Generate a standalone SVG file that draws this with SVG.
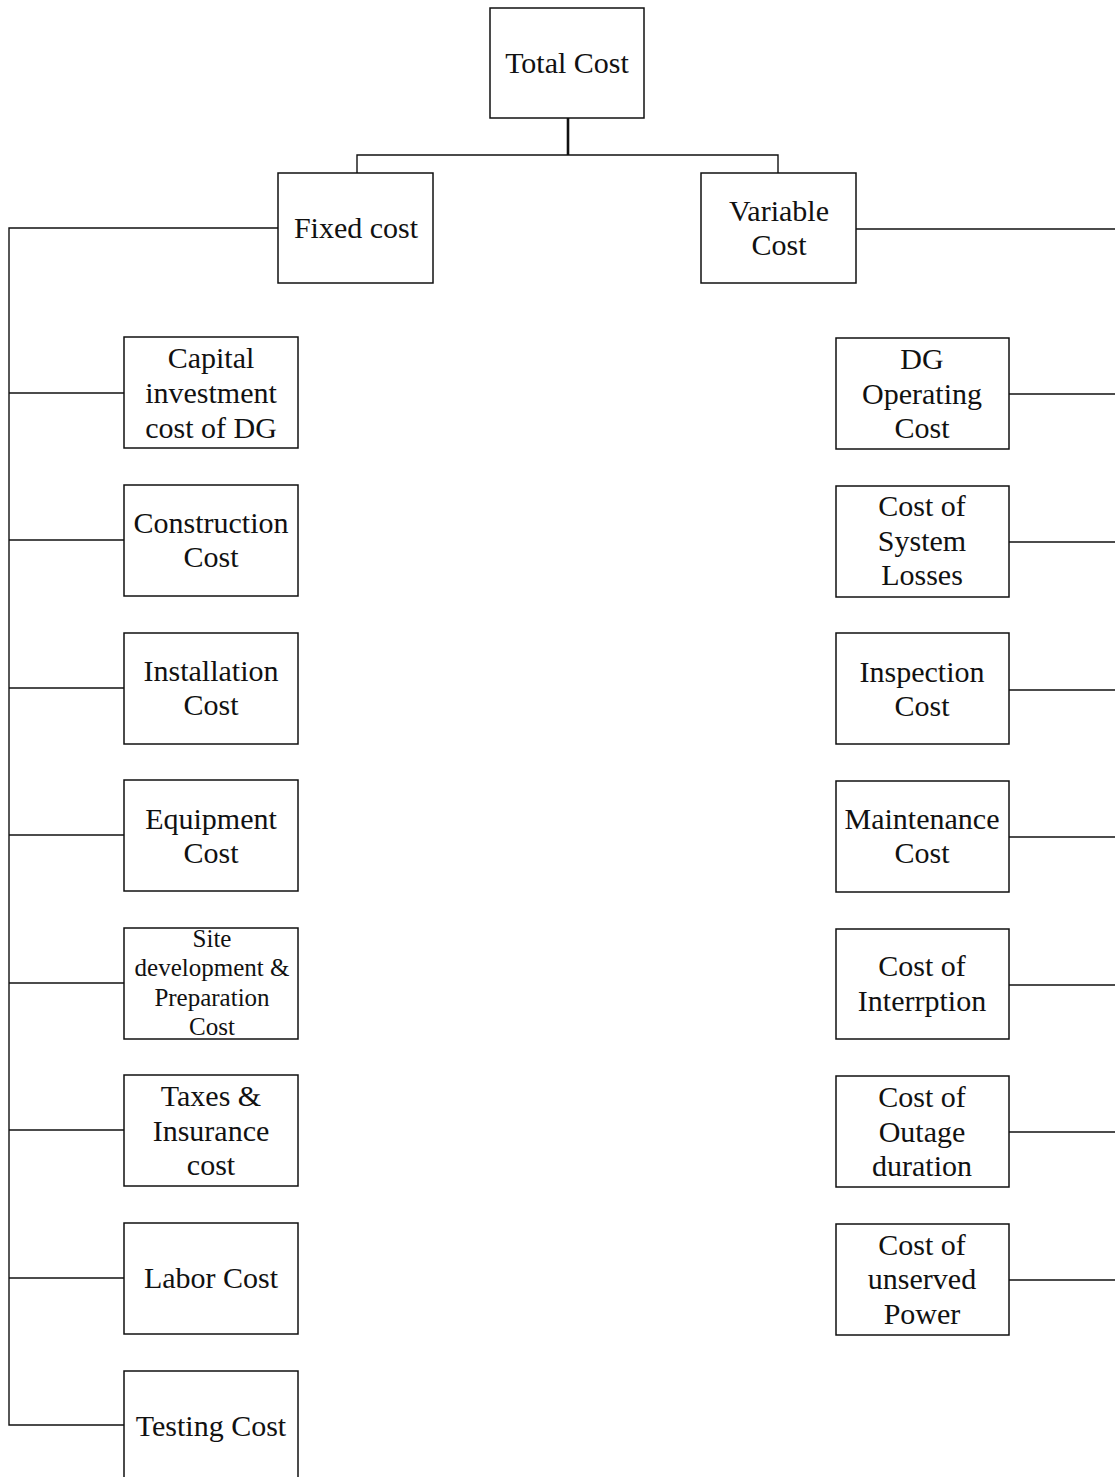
<svg xmlns="http://www.w3.org/2000/svg" width="1115" height="1477" viewBox="0 0 1115 1477">
  <style>
    .box { fill: #ffffff; stroke: #111111; stroke-width: 1.5; }
    .lbl { font-family: "Liberation Serif", "Times New Roman", serif; font-size: 30px; fill: #111111; text-anchor: middle; }
    .sm { font-size: 25px; }
    .wire { fill: none; stroke: #111111; stroke-width: 1.4; }
    .trunk { fill: none; stroke: #111111; stroke-width: 2.6; }
  </style>
  <rect width="1115" height="1477" fill="#ffffff"/>

  <!-- connectors -->
  <g id="connectors">
    <line class="trunk" x1="568" y1="118" x2="568" y2="155"/>
    <polyline class="wire" points="357,173 357,155 778,155 778,173"/>
    <!-- fixed cost branch -->
    <polyline class="wire" points="278,228 9,228 9,1425 124,1425"/>
    <line class="wire" x1="9" y1="393" x2="124" y2="393"/>
    <line class="wire" x1="9" y1="540" x2="124" y2="540"/>
    <line class="wire" x1="9" y1="688" x2="124" y2="688"/>
    <line class="wire" x1="9" y1="835" x2="124" y2="835"/>
    <line class="wire" x1="9" y1="983" x2="124" y2="983"/>
    <line class="wire" x1="9" y1="1130" x2="124" y2="1130"/>
    <line class="wire" x1="9" y1="1278" x2="124" y2="1278"/>
    <!-- variable cost branch -->
    <line class="wire" x1="856" y1="229" x2="1115" y2="229"/>
    <line class="wire" x1="1009" y1="394" x2="1115" y2="394"/>
    <line class="wire" x1="1009" y1="542" x2="1115" y2="542"/>
    <line class="wire" x1="1009" y1="690" x2="1115" y2="690"/>
    <line class="wire" x1="1009" y1="837" x2="1115" y2="837"/>
    <line class="wire" x1="1009" y1="985" x2="1115" y2="985"/>
    <line class="wire" x1="1009" y1="1132" x2="1115" y2="1132"/>
    <line class="wire" x1="1009" y1="1280" x2="1115" y2="1280"/>
  </g>

  <g id="total-cost">
    <rect class="box" x="490" y="8" width="154" height="110"/>
    <text class="lbl" x="567" y="73">Total Cost</text>
  </g>
  <g id="fixed-cost">
    <rect class="box" x="278" y="173" width="155" height="110"/>
    <text class="lbl" x="356" y="238">Fixed cost</text>
  </g>
  <g id="variable-cost">
    <rect class="box" x="701" y="173" width="155" height="110"/>
    <text class="lbl" x="779" y="221">Variable</text>
    <text class="lbl" x="779" y="255">Cost</text>
  </g>

  <!-- fixed cost items -->
  <g id="capital-investment">
    <rect class="box" x="124" y="337" width="174" height="111"/>
    <text class="lbl" x="211" y="368">Capital</text>
    <text class="lbl" x="211" y="403">investment</text>
    <text class="lbl" x="211" y="438">cost of DG</text>
  </g>
  <g id="construction">
    <rect class="box" x="124" y="485" width="174" height="111"/>
    <text class="lbl" x="211" y="533">Construction</text>
    <text class="lbl" x="211" y="567">Cost</text>
  </g>
  <g id="installation">
    <rect class="box" x="124" y="633" width="174" height="111"/>
    <text class="lbl" x="211" y="681">Installation</text>
    <text class="lbl" x="211" y="715">Cost</text>
  </g>
  <g id="equipment">
    <rect class="box" x="124" y="780" width="174" height="111"/>
    <text class="lbl" x="211" y="829">Equipment</text>
    <text class="lbl" x="211" y="863">Cost</text>
  </g>
  <g id="site-development">
    <rect class="box" x="124" y="928" width="174" height="111"/>
    <text class="lbl sm" x="212" y="947">Site</text>
    <text class="lbl sm" x="212" y="976">development &amp;</text>
    <text class="lbl sm" x="212" y="1006">Preparation</text>
    <text class="lbl sm" x="212" y="1035">Cost</text>
  </g>
  <g id="taxes-insurance">
    <rect class="box" x="124" y="1075" width="174" height="111"/>
    <text class="lbl" x="211" y="1106">Taxes &amp;</text>
    <text class="lbl" x="211" y="1141">Insurance</text>
    <text class="lbl" x="211" y="1175">cost</text>
  </g>
  <g id="labor">
    <rect class="box" x="124" y="1223" width="174" height="111"/>
    <text class="lbl" x="211" y="1288">Labor Cost</text>
  </g>
  <g id="testing">
    <rect class="box" x="124" y="1371" width="174" height="111"/>
    <text class="lbl" x="211" y="1436">Testing Cost</text>
  </g>

  <!-- variable cost items -->
  <g id="dg-operating">
    <rect class="box" x="836" y="338" width="173" height="111"/>
    <text class="lbl" x="922" y="369">DG</text>
    <text class="lbl" x="922" y="404">Operating</text>
    <text class="lbl" x="922" y="438">Cost</text>
  </g>
  <g id="system-losses">
    <rect class="box" x="836" y="486" width="173" height="111"/>
    <text class="lbl" x="922" y="516">Cost of</text>
    <text class="lbl" x="922" y="551">System</text>
    <text class="lbl" x="922" y="585">Losses</text>
  </g>
  <g id="inspection">
    <rect class="box" x="836" y="633" width="173" height="111"/>
    <text class="lbl" x="922" y="682">Inspection</text>
    <text class="lbl" x="922" y="716">Cost</text>
  </g>
  <g id="maintenance">
    <rect class="box" x="836" y="781" width="173" height="111"/>
    <text class="lbl" x="922" y="829">Maintenance</text>
    <text class="lbl" x="922" y="863">Cost</text>
  </g>
  <g id="interruption">
    <rect class="box" x="836" y="929" width="173" height="110"/>
    <text class="lbl" x="922" y="976">Cost of</text>
    <text class="lbl" x="922" y="1011">Interrption</text>
  </g>
  <g id="outage-duration">
    <rect class="box" x="836" y="1076" width="173" height="111"/>
    <text class="lbl" x="922" y="1107">Cost of</text>
    <text class="lbl" x="922" y="1142">Outage</text>
    <text class="lbl" x="922" y="1176">duration</text>
  </g>
  <g id="unserved-power">
    <rect class="box" x="836" y="1224" width="173" height="111"/>
    <text class="lbl" x="922" y="1255">Cost of</text>
    <text class="lbl" x="922" y="1289">unserved</text>
    <text class="lbl" x="922" y="1324">Power</text>
  </g>
</svg>
